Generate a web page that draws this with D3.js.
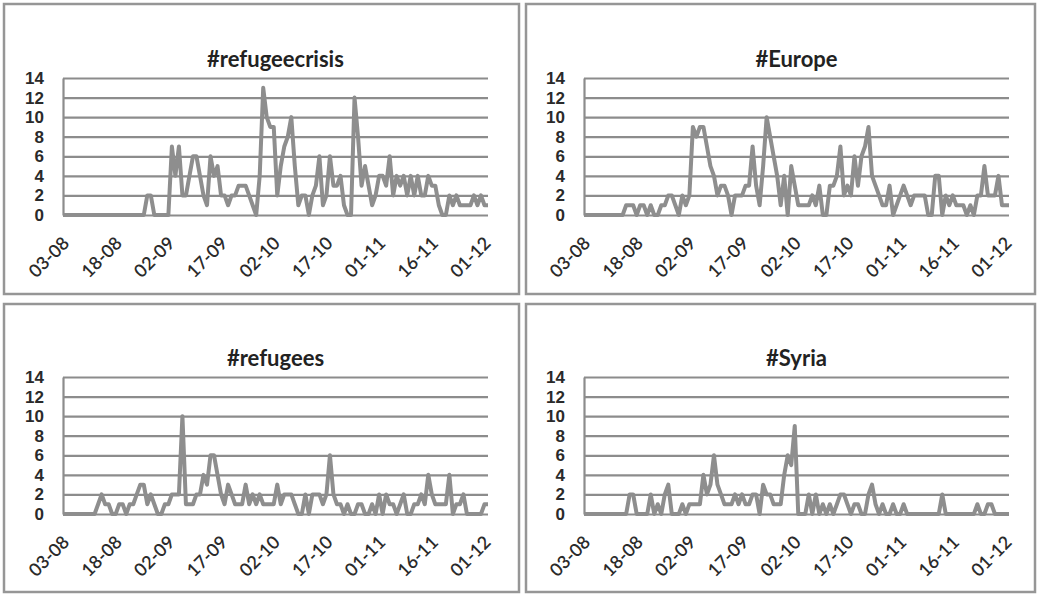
<!DOCTYPE html>
<meta charset="utf-8">
<style>

body {
  margin: 0;
  background: #fff;
  font-family: Lato, "Open Sans", sans-serif;
}
.frame {
  fill: none;
  stroke: #969696;
  stroke-width: 2.5px;
}
.grid line,
.grid path {
  stroke: #8c8c8c;
  stroke-width: 2.2px;
}
.grid text {
  font-size: 17px;
  font-weight: 600;
  fill: #2a2a2a;
}
.xlab {
  font-size: 18px;
  font-weight: 600;
  fill: #2a2a2a;
}
.title {
  font-size: 22px;
  font-weight: bold;
  fill: #222;
}
.line {
  fill: none;
  stroke: #8e8e8e;
  stroke-width: 4px;
  stroke-linejoin: round;
}

</style>
<body>
<script src="https://d3js.org/d3.v7.min.js"></script>
<script>

// daily counts, 03-08 to 02-12
var startDate = "03-08-2015";
var tickLabels = ["03-08","18-08","02-09","17-09","02-10","17-10","01-11","16-11","01-12"];
var yTicks = [0, 2, 4, 6, 8, 10, 12, 14];
var titles = ["#refugeecrisis", "#Europe", "#refugees", "#Syria"];

var refugeecrisis = [
  0,0,0,0,0,0,0,0,0,0,
  0,0,0,0,0,0,0,0,0,0,
  0,0,0,0,2,2,0,0,0,0,
  0,7,4,7,2,2,4,6,6,4,
  2,1,6,4,5,2,2,1,2,2,
  3,3,3,2,1,0,4,13,10,9,
  9,2,5,7,8,10,5,1,2,2,
  0,2,3,6,1,2,6,3,3,4,
  1,0,0,12,8,3,5,3,1,2,
  4,4,3,6,2,4,3,4,2,4,
  2,4,2,2,4,3,3,1,0,0,
  2,1,2,1,1,1,1,2,1,2,
  1,1];

var europe = [
  0,0,0,0,0,0,0,0,0,0,
  0,0,1,1,1,0,1,1,0,1,
  0,0,1,1,2,2,1,0,2,1,
  2,9,8,9,9,7,5,4,2,3,
  3,2,0,2,2,2,3,3,7,3,
  1,5,10,8,6,4,1,4,0,5,
  3,1,1,1,1,2,1,3,0,0,
  3,3,4,7,2,3,2,6,3,6,
  7,9,4,3,2,1,1,3,0,1,
  2,3,2,1,2,2,2,2,0,0,
  4,4,0,2,1,2,1,1,1,0,
  1,0,2,2,5,2,2,2,4,1,
  1,1];

var refugees = [
  0,0,0,0,0,0,0,0,0,0,
  1,2,1,1,0,0,1,1,0,1,
  1,2,3,3,1,2,1,0,0,1,
  1,2,2,2,10,1,1,1,2,2,
  4,3,6,6,4,2,1,3,2,1,
  1,1,3,1,2,1,2,1,1,1,
  1,3,1,2,2,2,1,0,0,2,
  0,2,2,2,1,2,6,2,1,1,
  0,1,0,0,1,1,0,0,1,0,
  2,0,2,1,1,0,1,2,0,0,
  1,1,2,1,4,2,1,1,1,1,
  4,0,1,1,2,0,0,0,0,0,
  1,1];

var syria = [
  0,0,0,0,0,0,0,0,0,0,
  0,0,0,2,2,0,0,0,0,2,
  0,1,0,2,3,0,0,0,1,0,
  1,1,1,1,4,2,3,6,3,2,
  1,1,1,2,1,2,1,1,2,2,
  0,3,2,2,1,1,1,4,6,5,
  9,0,0,0,2,0,2,0,1,0,
  1,0,1,2,2,1,0,1,1,0,
  0,2,3,1,0,1,0,0,1,0,
  0,1,0,0,0,0,0,0,0,0,
  0,0,2,0,0,0,0,0,0,0,
  0,0,1,0,0,1,1,0,0,0,
  0,0];

var series = [refugeecrisis, europe, refugees, syria];

// layout of the 2x2 grid
var offX = [0, 521], offY = [0, 299];
var frames = [[4, 4, 515, 290], [526, 4, 509, 290], [4, 304, 515, 288], [526, 304, 509, 288]];
var margin = {left: 63, top: 78},
    width = 425,
    height = 137;

var parseDate = d3.timeParse("%d-%m-%Y");
var start = parseDate(startDate);
var dates = refugeecrisis.map(function(d, i) { return d3.timeDay.offset(start, i); });
var tickDates = tickLabels.map(function(t) { return parseDate(t + "-2015"); });

var x = d3.scaleTime()
    .domain([dates[0], dates[dates.length - 1]])
    .range([0, width]);

var y = d3.scaleLinear()
    .domain([0, 14])
    .range([height, 0]);

var line = d3.line()
    .x(function(d, i) { return x(dates[i]); })
    .y(function(d) { return y(d); });

var svg = d3.select("body").append("svg")
    .attr("width", 1039)
    .attr("height", 594);

for (var i = 0; i < series.length; i++) {
  var f = frames[i];
  svg.append("rect")
      .attr("class", "frame")
      .attr("x", f[0]).attr("y", f[1])
      .attr("width", f[2]).attr("height", f[3]);

  var g = svg.append("g")
      .attr("transform", "translate(" + (offX[i % 2] + margin.left) + "," + (offY[Math.floor(i / 2)] + margin.top) + ")");

  // gridlines + y labels
  g.append("g")
      .attr("class", "grid")
      .call(d3.axisLeft(y).tickValues(yTicks).tickSize(-width).tickSizeOuter(0).tickPadding(19));

  // rotated date labels
  g.selectAll(".xlab")
      .data(tickDates)
    .enter().append("text")
      .attr("class", "xlab")
      .attr("text-anchor", "end")
      .attr("dy", "0.35em")
      .attr("transform", function(d) { return "translate(" + (x(d) + 3) + "," + (height + 25) + ") rotate(-45)"; })
      .text(function(d, k) { return tickLabels[k]; });

  g.append("path")
      .datum(series[i])
      .attr("class", "line")
      .attr("d", line);

  g.append("text")
      .attr("class", "title")
      .attr("x", width / 2)
      .attr("y", -11)
      .attr("text-anchor", "middle")
      .text(titles[i]);
}

</script>
